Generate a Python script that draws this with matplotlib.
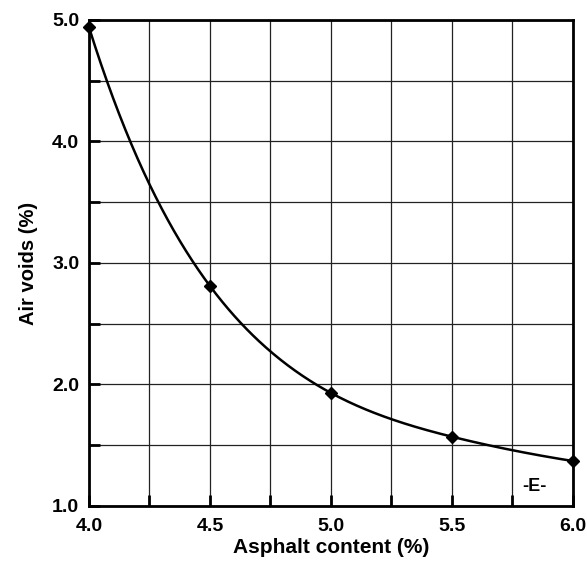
import numpy as np
import matplotlib.pyplot as plt
from matplotlib.ticker import MultipleLocator

plt.rcParams['font.family'] = ['Liberation Sans', 'DejaVu Sans']
plt.rcParams['font.weight'] = 'bold'

asphalt = [4.0, 4.5, 5.0, 5.5, 6.0]
air_voids = [4.94, 2.81, 1.93, 1.57, 1.37]


def natural_spline(x, y, xs):
    # natural cubic spline
    x = np.asarray(x, float)
    y = np.asarray(y, float)
    n = len(x)
    h = np.diff(x)
    A = np.zeros((n, n))
    b = np.zeros(n)
    A[0, 0] = A[-1, -1] = 1
    for i in range(1, n - 1):
        A[i, i - 1] = h[i - 1]
        A[i, i] = 2 * (h[i - 1] + h[i])
        A[i, i + 1] = h[i]
        b[i] = 6 * ((y[i + 1] - y[i]) / h[i] - (y[i] - y[i - 1]) / h[i - 1])
    m = np.linalg.solve(A, b)
    idx = np.clip(np.searchsorted(x, xs) - 1, 0, n - 2)
    x0, x1 = x[idx], x[idx + 1]
    hh = x1 - x0
    t0, t1 = x1 - xs, xs - x0
    return (m[idx] * t0 ** 3 / (6 * hh) + m[idx + 1] * t1 ** 3 / (6 * hh)
            + (y[idx] / hh - m[idx] * hh / 6) * t0
            + (y[idx + 1] / hh - m[idx + 1] * hh / 6) * t1)


def exp_fit(x, y):
    # y = a + b*exp(-k*(x - x0)), best k by a simple scan
    x = np.asarray(x, float)
    y = np.asarray(y, float)
    best = None
    for k in np.linspace(0.2, 5, 500):
        M = np.column_stack([np.ones_like(x), np.exp(-k * (x - x[0]))])
        coef, *_ = np.linalg.lstsq(M, y, rcond=None)
        err = np.sum((M @ coef - y) ** 2)
        if best is None or err < best[0]:
            best = (err, k, coef)
    _, k, (a, b) = best
    return lambda t: a + b * np.exp(-k * (np.asarray(t) - x[0]))


# smooth curve: exponential trend plus a spline of what is left over
trend = exp_fit(asphalt, air_voids)
resid = np.array(air_voids) - trend(asphalt)
xs = np.linspace(asphalt[0], asphalt[-1], 400)
ys = trend(xs) + natural_spline(asphalt, resid, xs)

fig = plt.figure(figsize=(5.87, 5.68), dpi=100)
ax = fig.add_axes([0.1516, 0.1092, 0.8245, 0.8556])

ax.plot(xs, ys, color='black', lw=1.8, zorder=3)
ax.plot(asphalt, air_voids, 'D', color='black', ms=6, zorder=4, clip_on=False)

ax.set_xlim(4.0, 6.0)
ax.set_ylim(1.0, 5.0)
ax.xaxis.set_major_locator(MultipleLocator(0.5))
ax.xaxis.set_minor_locator(MultipleLocator(0.25))
ax.yaxis.set_major_locator(MultipleLocator(1.0))
ax.yaxis.set_minor_locator(MultipleLocator(0.5))
ax.xaxis.set_major_formatter(lambda v, p: f'{v:.1f}')
ax.yaxis.set_major_formatter(lambda v, p: f'{v:.1f}')
ax.grid(True, which='both', color='#222222', lw=0.9)
ax.set_axisbelow(True)
ax.tick_params(which='both', direction='in', length=8, width=2, labelsize=14)
ax.tick_params(axis='x', pad=9)
ax.tick_params(axis='y', pad=7)

for s in ax.spines.values():
    s.set_linewidth(2)

ax.set_xlabel('Asphalt content (%)', fontsize=15, fontweight='bold', labelpad=2)
ax.set_ylabel('Air voids (%)', fontsize=14.5, fontweight='bold', labelpad=10)
ax.text(5.84, 1.16, '-E-', fontsize=13, fontweight='bold', ha='center', va='center')

fig.savefig('out.png', dpi=100)
